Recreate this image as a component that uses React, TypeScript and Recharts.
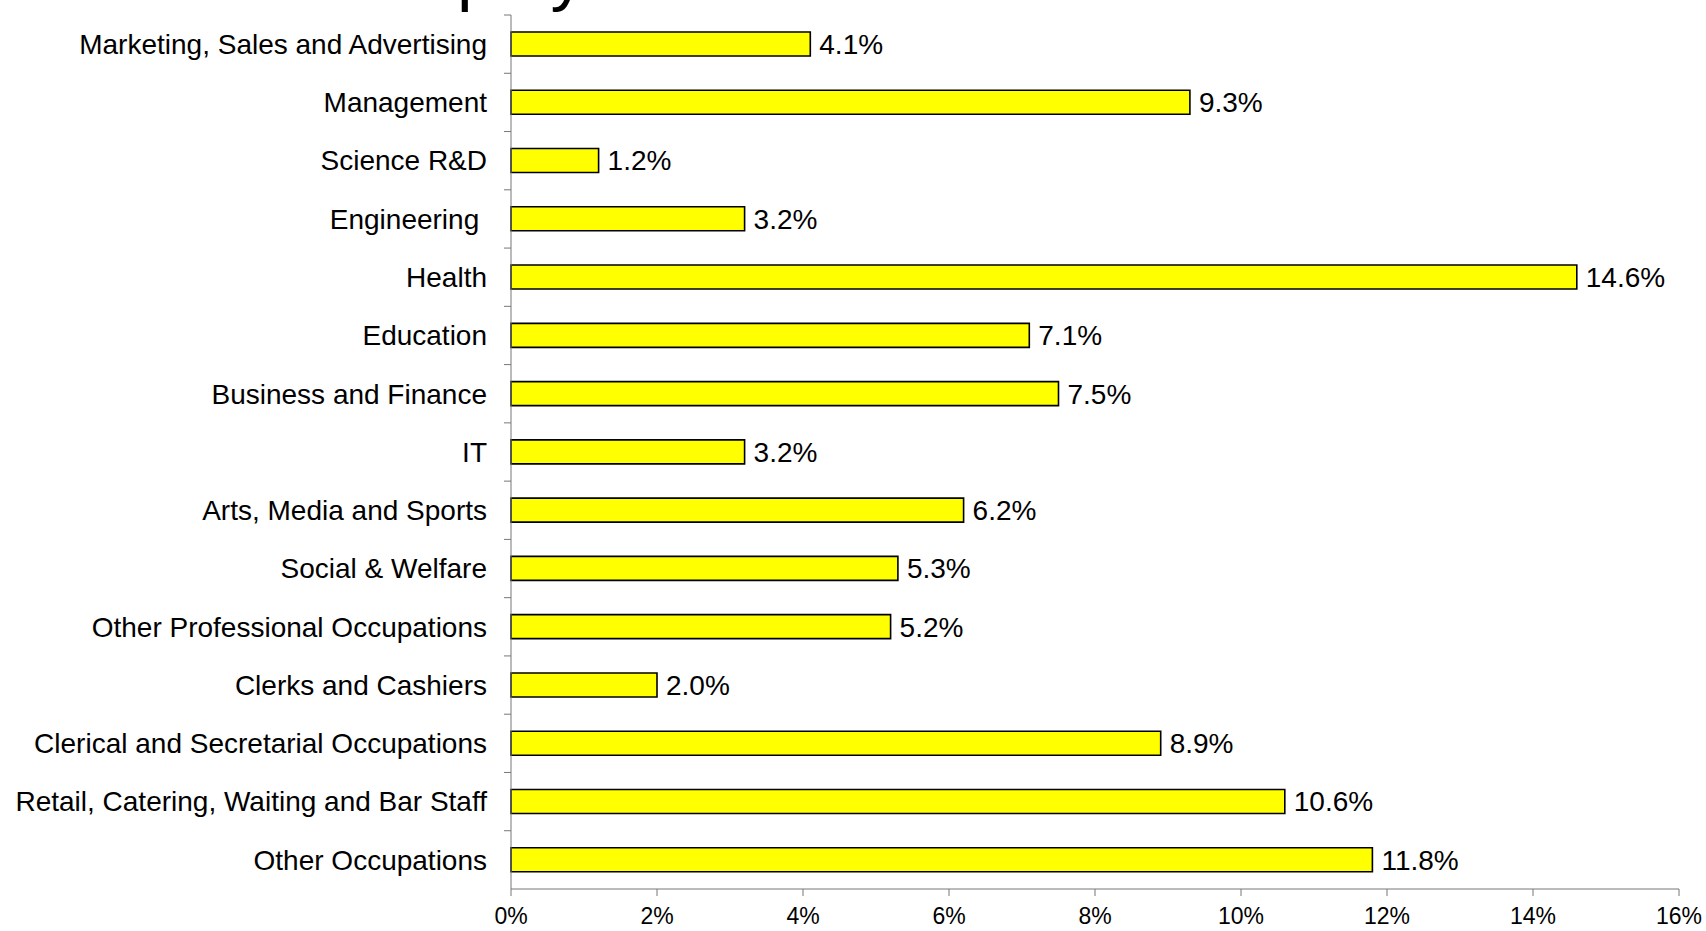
import React from "react";
import { BarChart, Bar, XAxis, YAxis, LabelList } from "recharts";

const categories = [
    "Marketing, Sales and Advertising",
    "Management",
    "Science R&D",
    "Engineering ",
    "Health",
    "Education",
    "Business and Finance",
    "IT",
    "Arts, Media and Sports",
    "Social & Welfare",
    "Other Professional Occupations",
    "Clerks and Cashiers",
    "Clerical and Secretarial Occupations",
    "Retail, Catering, Waiting and Bar Staff",
    "Other Occupations",
];

const shares = [4.1, 9.3, 1.2, 3.2, 14.6, 7.1, 7.5, 3.2, 6.2, 5.3, 5.2, 2.0, 8.9, 10.6, 11.8];

const xTicks = [0, 2, 4, 6, 8, 10, 12, 14, 16];

const data = categories.map((name, i) => ({ name, value: shares[i] }));

const W = 1706;
const H = 931;
const TOP = 15;
const X_AXIS_H = 42;
const Y_AXIS_W = 511;
const BAND = (H - TOP - X_AXIS_H) / categories.length;
const FONT = '"Liberation Sans", Arial, sans-serif';

function CategoryTick(props: any) {
    const { y, payload } = props;
    return (
        <g>
            <line x1={Y_AXIS_W - 7} x2={Y_AXIS_W} y1={y - BAND / 2} y2={y - BAND / 2} stroke="#777" />
            <text
                x={Y_AXIS_W - 24}
                y={y}
                dy="0.35em"
                textAnchor="end"
                fill="#000"
                fontSize={28}
                fontFamily={FONT}
                style={{ whiteSpace: "pre" }}
            >
                {payload.value}
            </text>
        </g>
    );
}

export default function App() {
    return (
        <div style={{ position: "absolute", left: 0, top: 0, width: W, height: H, background: "#fff" }}>
            {/* title cut off at the top edge, only descenders show */}
            <svg width={W} height={H} style={{ position: "absolute", left: 0, top: 0, pointerEvents: "none" }}>
                <text x={352} y={-3} fontSize={70} fontFamily={FONT} fill="#000">
                    Employment
                </text>
            </svg>
            <BarChart
                width={W}
                height={H}
                data={data}
                layout="vertical"
                margin={{ top: TOP, right: 27, bottom: 0, left: 0 }}
                barSize={24}
            >
                <XAxis
                    type="number"
                    domain={[0, 16]}
                    ticks={xTicks}
                    tickFormatter={(v: number) => `${v}%`}
                    height={X_AXIS_H}
                    tickSize={7}
                    tickMargin={12}
                    axisLine={{ stroke: "#777" }}
                    tickLine={{ stroke: "#777" }}
                    tick={{ fill: "#000", fontSize: 23, fontFamily: FONT }}
                />
                <YAxis
                    type="category"
                    dataKey="name"
                    width={Y_AXIS_W}
                    interval={0}
                    tickLine={false}
                    axisLine={{ stroke: "#777" }}
                    tick={<CategoryTick />}
                />
                <Bar dataKey="value" fill="#FFFF00" stroke="#000" strokeWidth={1.6} isAnimationActive={false}>
                    <LabelList
                        dataKey="value"
                        position="right"
                        offset={9}
                        formatter={(v: any) => `${Number(v).toFixed(1)}%`}
                        fill="#000"
                        fontSize={28}
                        fontFamily={FONT}
                    />
                </Bar>
            </BarChart>
        </div>
    );
}
